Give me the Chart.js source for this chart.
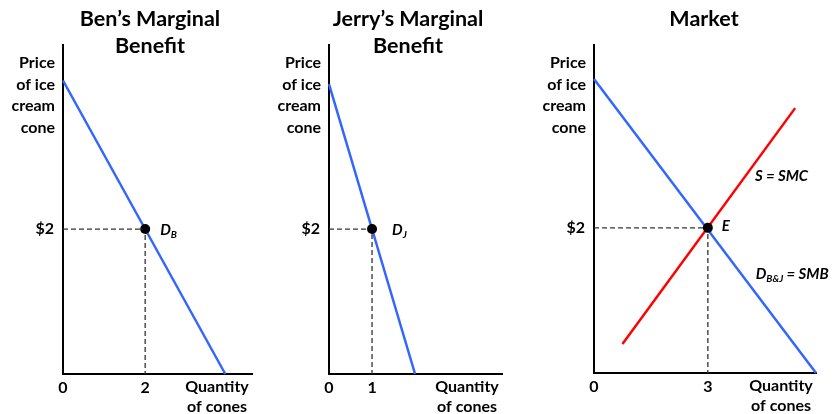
<!DOCTYPE html>
<html><head><meta charset="utf-8">
<script src="https://cdn.jsdelivr.net/npm/chart.js@4.4.0/dist/chart.umd.min.js"></script>
<style>
html,body{margin:0;padding:0;background:#fff;}
#wrap{position:relative;width:840px;height:414px;}
canvas{position:absolute;left:0;top:0;}
</style></head><body>
<div id="wrap">
<canvas id="c1" width="840" height="414"></canvas>
<canvas id="c2" width="840" height="414"></canvas>
<canvas id="c3" width="840" height="414"></canvas>
</div>
<script>
// ---- data ----
const benQty = [0, 3.95];
const benPrice = [4.05, 0];
const benEqQty = 2, benEqPrice = 2;

const jerryQty = [0, 2];
const jerryPrice = [4, 0];
const jerryEqQty = 1, jerryEqPrice = 2;

const marketDemandQty = [0, 5.85];
const marketDemandPrice = [4.05, 0];
const supplyQty = [0.75, 5.3];
const supplyPrice = [0.4, 3.65];
const marketEqQty = 3, marketEqPrice = 2;

const yTickValues = [2];
const yTickLabels = ['$2'];
const benXTicks = [0, 2];
const jerryXTicks = [0, 1];
const marketXTicks = [0, 3];

const titleBen = ['Ben’s Marginal', 'Benefit'];
const titleJerry = ['Jerry’s Marginal', 'Benefit'];
const titleMarket = ['Market'];
const yAxisLabel = ['Price', 'of ice', 'cream', 'cone'];
const xAxisLabel = ['Quantity', 'of cones'];

// ---- helpers ----
const FONT = 'Lato';
const BLUE = '#3366ff';
const RED = '#ff0000';
const Y_AXIS_W = 30, X_AXIS_H = 30;
const zip = (xs, ys) => xs.map((x, i) => ({x, y: ys[i]}));

const annotPlugin = {
  id: 'annot',
  afterDatasetsDraw(chart, args, opts) {
    const ctx = chart.ctx, a = chart.chartArea;
    const xs = chart.scales.x, ys = chart.scales.y;
    ctx.save();
    ctx.fillStyle = '#000';
    ctx.textBaseline = 'alphabetic';
    ctx.font = 'bold 21.5px ' + FONT;
    ctx.textAlign = 'center';
    opts.title.forEach((t, i) => ctx.fillText(t, a.left + opts.titleDx, a.top - 19 + i * 27));
    ctx.font = 'bold 16px ' + FONT;
    ctx.textAlign = 'right';
    yAxisLabel.forEach((t, i) => ctx.fillText(t, a.left - 8, a.top + 23 + i * 21.7));
    ctx.textAlign = 'center';
    xAxisLabel.forEach((t, i) => ctx.fillText(t, a.right - 35, a.bottom + 18 + i * 20));
    ctx.textAlign = 'left';
    opts.labels.forEach(l => {
      let x = xs.getPixelForValue(l.x) + (l.dx || 0);
      const y = ys.getPixelForValue(l.y) + (l.dy || 0);
      l.parts.forEach(p => {
        ctx.font = p.sub ? 'italic bold 10px ' + FONT : 'italic bold 15px ' + FONT;
        ctx.fillText(p.t, x, y + (p.sub ? 3 : 0));
        x += ctx.measureText(p.t).width;
      });
    });
    ctx.restore();
  }
};

function dashedGuide(q, p) {
  return {data: [{x: 0, y: p}, {x: q, y: p}, {x: q, y: 0}], borderColor: '#333', borderWidth: 1.3,
    borderDash: [5, 3], pointRadius: 0, order: 3, clip: false, tension: 0};
}
function curve(xs, ys, color) {
  return {data: zip(xs, ys), borderColor: color, borderWidth: 2.5, pointRadius: 0, order: 2, clip: false, tension: 0};
}
function dot(q, p) {
  return {data: [{x: q, y: p}], showLine: false, pointRadius: 5, pointBackgroundColor: '#000',
    pointBorderColor: '#000', borderWidth: 0, order: 1, clip: false};
}

function makeChart(id, area, xMax, yMax, xTicks, datasets, annot) {
  const tickFont = {family: FONT, weight: 'bold', size: 16};
  const pad = {left: area.left - Y_AXIS_W, right: 840 - area.right, top: area.top, bottom: 414 - area.bottom - X_AXIS_H};
  return new Chart(document.getElementById(id), {
    type: 'line',
    data: {datasets},
    options: {
      responsive: false, animation: false, devicePixelRatio: 1,
      layout: {padding: pad},
      plugins: {legend: {display: false}, tooltip: {enabled: false}, annot},
      scales: {
        x: {type: 'linear', min: 0, max: xMax,
          grid: {display: false, drawTicks: false},
          border: {display: true, color: '#000', width: 2},
          ticks: {font: tickFont, color: '#000', padding: 4, maxRotation: 0,
            callback: (v) => String(v)},
          afterBuildTicks: s => { s.ticks = xTicks.map(v => ({value: v})); },
          afterFit: s => { s.height = X_AXIS_H; }
        },
        y: {type: 'linear', min: 0, max: yMax,
          grid: {display: false, drawTicks: false},
          border: {display: true, color: '#000', width: 2},
          ticks: {font: tickFont, color: '#000', padding: 9,
            callback: (v, i) => yTickLabels[i]},
          afterBuildTicks: s => { s.ticks = yTickValues.map(v => ({value: v})); },
          afterFit: s => { s.width = Y_AXIS_W; }
        }
      }
    },
    plugins: [annotPlugin]
  });
}

makeChart('c1', {left: 63, right: 252, top: 45, bottom: 374}, 4.6, 4.54, benXTicks,
  [dashedGuide(benEqQty, benEqPrice), curve(benQty, benPrice, BLUE), dot(benEqQty, benEqPrice)],
  {title: titleBen, titleDx: 87,
   labels: [{x: benEqQty, y: benEqPrice, dx: 15, dy: 6, parts: [{t: 'D'}, {t: 'B', sub: true}]}]});

makeChart('c2', {left: 329, right: 502, top: 45, bottom: 374}, 4.02, 4.54, jerryXTicks,
  [dashedGuide(jerryEqQty, jerryEqPrice), curve(jerryQty, jerryPrice, BLUE), dot(jerryEqQty, jerryEqPrice)],
  {title: titleJerry, titleDx: 79,
   labels: [{x: jerryEqQty, y: jerryEqPrice, dx: 20, dy: 6, parts: [{t: 'D'}, {t: 'J', sub: true}]}]});

makeChart('c3', {left: 594, right: 816, top: 45, bottom: 373}, 5.85, 4.52, marketXTicks,
  [dashedGuide(marketEqQty, marketEqPrice), curve(marketDemandQty, marketDemandPrice, BLUE),
   curve(supplyQty, supplyPrice, RED), dot(marketEqQty, marketEqPrice)],
  {title: titleMarket, titleDx: 110,
   labels: [
     {x: marketEqQty, y: marketEqPrice, dx: 14, dy: 3, parts: [{t: 'E'}]},
     {x: 4.24, y: 2.65, parts: [{t: 'S = SMC'}]},
     {x: 4.26, y: 1.3, parts: [{t: 'D'}, {t: 'B&J', sub: true}, {t: ' = SMB'}]}
   ]});
</script>
</body></html>
